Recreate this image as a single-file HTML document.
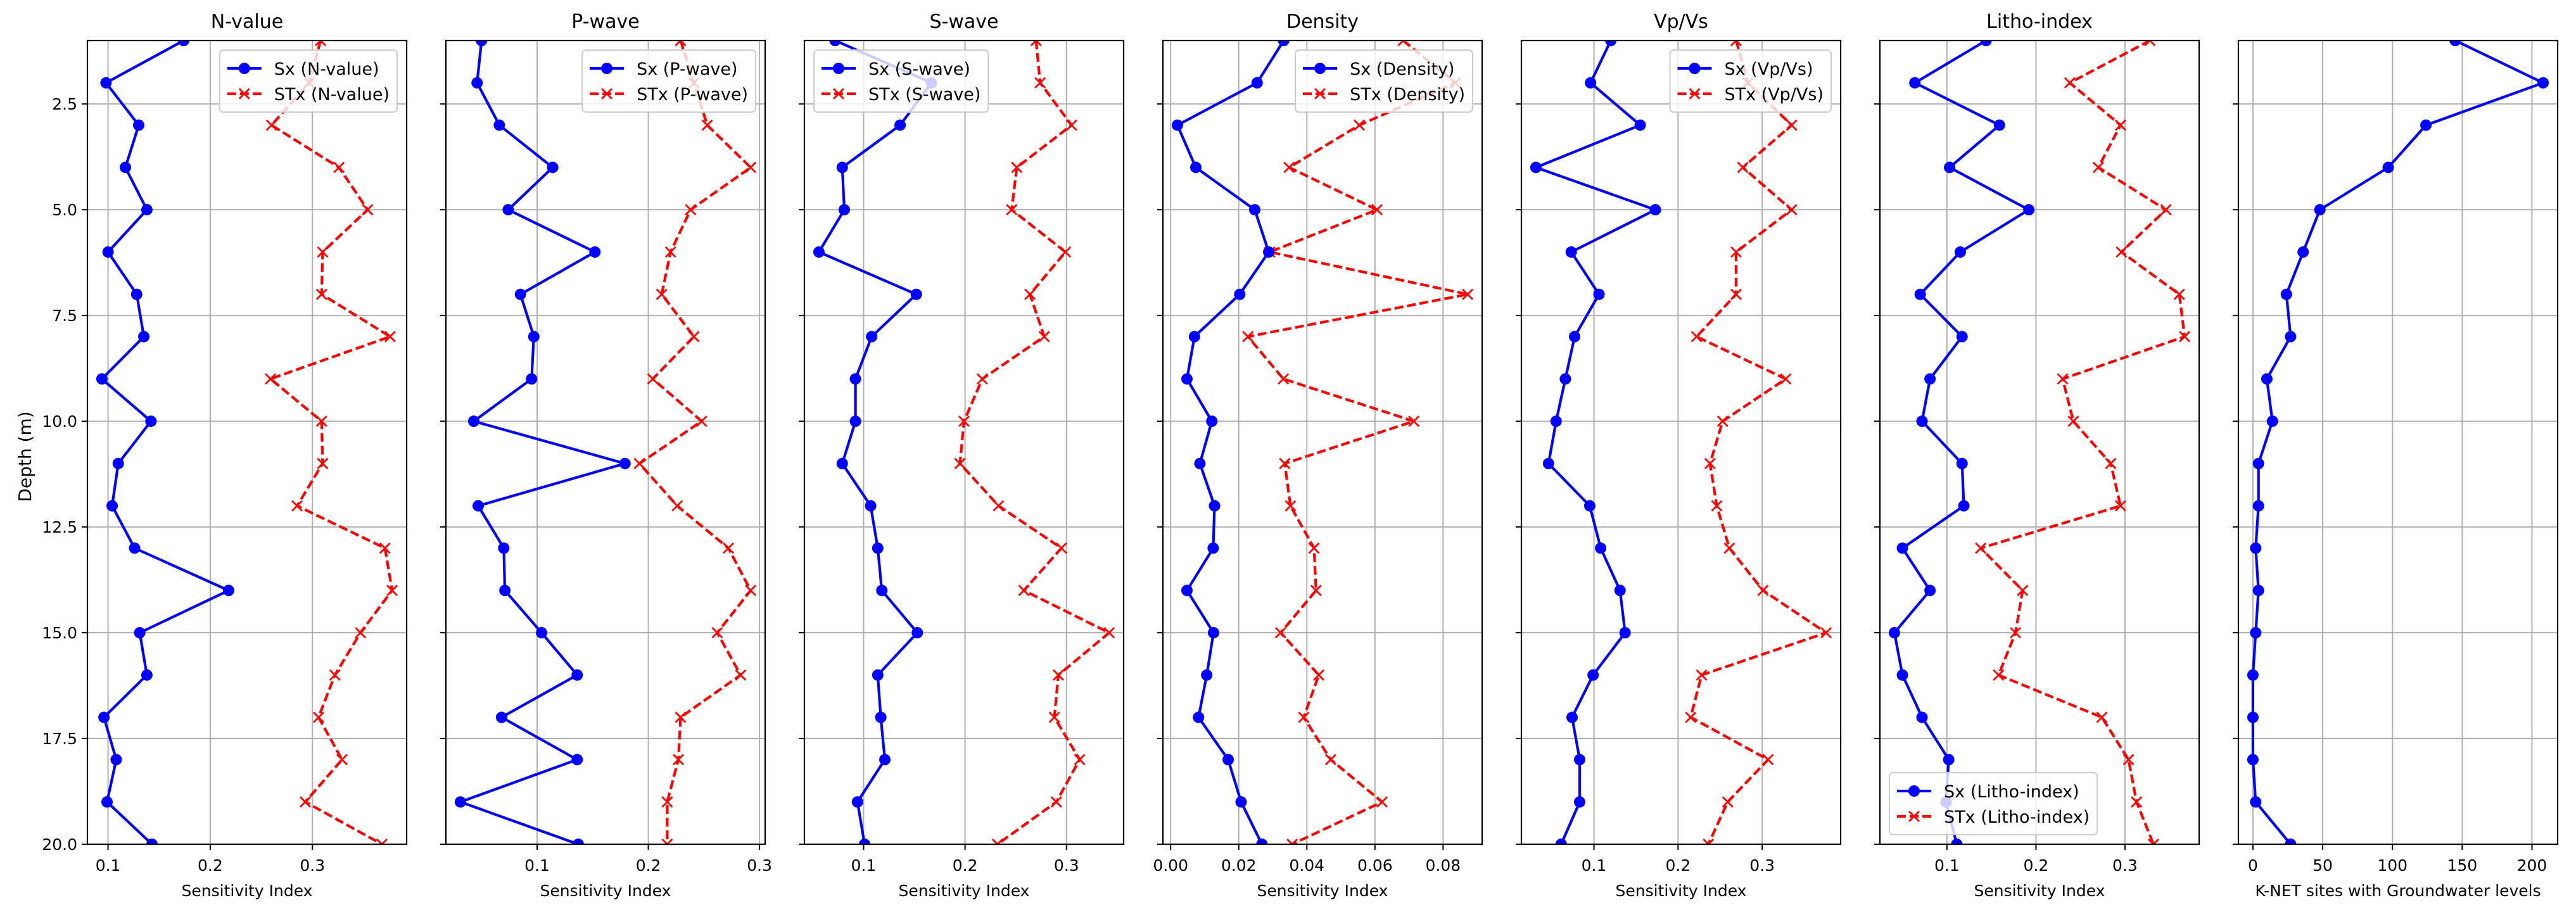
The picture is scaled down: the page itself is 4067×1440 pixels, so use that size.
<!DOCTYPE html>
<html><head><meta charset="utf-8">
<style>
html,body{margin:0;padding:0;background:#fff;}
svg{display:block;font-family:"DejaVu Sans","Liberation Sans",sans-serif;}
</style></head>
<body>
<svg id="chart" width="4067" height="1440" viewBox="0 0 4067 1440" xmlns="http://www.w3.org/2000/svg"></svg>
<script>
const depths = [1,2,3,4,5,6,7,8,9,10,11,12,13,14,15,16,17,18,19,20];
const yTicks = [2.5,5,7.5,10,12.5,15,17.5,20];
const panelTitles = ["N-value","P-wave","S-wave","Density","Vp/Vs","Litho-index",""];
const sxNvalue = [0.174,0.098,0.130,0.117,0.138,0.100,0.128,0.135,0.094,0.142,0.110,0.104,0.126,0.218,0.131,0.138,0.096,0.108,0.099,0.143];
const stxNvalue = [0.308,0.297,0.260,0.326,0.354,0.310,0.309,0.376,0.259,0.309,0.310,0.285,0.371,0.378,0.347,0.322,0.306,0.329,0.293,0.368];
const sxPwave = [0.050,0.046,0.066,0.114,0.074,0.152,0.085,0.097,0.095,0.043,0.179,0.047,0.070,0.071,0.104,0.136,0.068,0.136,0.031,0.137];
const stxPwave = [0.229,0.241,0.253,0.292,0.238,0.220,0.212,0.241,0.204,0.248,0.192,0.226,0.272,0.292,0.262,0.283,0.229,0.227,0.217,0.217];
const sxSwave = [0.072,0.167,0.136,0.079,0.081,0.056,0.152,0.108,0.092,0.092,0.079,0.107,0.114,0.118,0.153,0.114,0.117,0.121,0.094,0.101];
const stxSwave = [0.270,0.274,0.305,0.251,0.246,0.299,0.264,0.278,0.217,0.199,0.195,0.233,0.295,0.258,0.342,0.292,0.288,0.313,0.290,0.232];
const sxDensity = [0.0332,0.0254,0.0020,0.0074,0.0247,0.0288,0.0203,0.0070,0.0048,0.0121,0.0086,0.0129,0.0125,0.0048,0.0126,0.0106,0.0082,0.0169,0.0207,0.0268];
const stxDensity = [0.0683,0.0836,0.0554,0.0348,0.0606,0.0291,0.0872,0.0227,0.0331,0.0714,0.0335,0.0352,0.0421,0.0427,0.0323,0.0435,0.0391,0.0470,0.0621,0.0357];
const sxVpVs = [0.120,0.096,0.155,0.031,0.173,0.073,0.106,0.077,0.066,0.055,0.046,0.095,0.108,0.131,0.137,0.099,0.074,0.083,0.083,0.061];
const stxVpVs = [0.269,0.283,0.335,0.277,0.335,0.269,0.269,0.222,0.328,0.253,0.238,0.246,0.261,0.301,0.376,0.228,0.215,0.307,0.259,0.236];
const sxLitho = [0.144,0.064,0.159,0.103,0.192,0.115,0.070,0.117,0.081,0.072,0.117,0.119,0.050,0.081,0.041,0.050,0.072,0.102,0.099,0.111];
const stxLitho = [0.328,0.238,0.295,0.270,0.346,0.296,0.361,0.367,0.230,0.242,0.284,0.295,0.138,0.185,0.177,0.158,0.274,0.304,0.313,0.332];
const knetSites = [145,208,124,97,48,36,24,27,10,14,4,4,2,4,2,0,0,0,2,27];
const xTicks1 = [0.1,0.2,0.3];
const xTicksDensity = [0.00,0.02,0.04,0.06,0.08];
const xTicksKnet = [0,50,100,150,200];

const panels = [
  {sx:sxNvalue, stx:stxNvalue, label:"N-value", ticks:xTicks1, dec:1, legend:"ur"},
  {sx:sxPwave, stx:stxPwave, label:"P-wave", ticks:xTicks1, dec:1, legend:"ur"},
  {sx:sxSwave, stx:stxSwave, label:"S-wave", ticks:xTicks1, dec:1, legend:"ul"},
  {sx:sxDensity, stx:stxDensity, label:"Density", ticks:xTicksDensity, dec:2, legend:"ur"},
  {sx:sxVpVs, stx:stxVpVs, label:"Vp/Vs", ticks:xTicks1, dec:1, legend:"ur"},
  {sx:sxLitho, stx:stxLitho, label:"Litho-index", ticks:xTicks1, dec:1, legend:"ll"},
  {sx:knetSites, stx:null, label:"", ticks:xTicksKnet, dec:0, legend:null}
];

const NS = "http://www.w3.org/2000/svg";
const svg = document.getElementById('chart');
function mk(tag, attrs, parent){
  const e = document.createElementNS(NS, tag);
  for (const k in attrs) e.setAttribute(k, attrs[k]);
  (parent||svg).appendChild(e);
  return e;
}
const TOP=64, BOT=1333, W=504, STEP=566, L0=138;
const yMin=1, yMax=20;
const LW=4.2, MR=9;
function yScale(d){ return TOP + (d-yMin)/(yMax-yMin)*(BOT-TOP); }

panels.forEach((p, i) => {
  const left = L0 + i*STEP, right = left + W;
  const all = p.sx.concat(p.stx || []);
  const mn = Math.min(...all), mx = Math.max(...all), rg = mx - mn;
  const xmin = mn - 0.05*rg, xmax = mx + 0.05*rg;
  const xScale = v => left + (v - xmin)/(xmax - xmin)*W;

  const g = mk('g', {});
  
  

  const clipId = 'clip' + i;
  const cp = mk('clipPath', {id: clipId}, g);
  mk('rect', {x:left, y:TOP, width:W, height:BOT-TOP}, cp);

  const grid = mk('g', {stroke:'#b0b0b0', 'stroke-width':2}, g);
  
  
  p.ticks.forEach(t => { const x = xScale(t); mk('line', {x1:x, x2:x, y1:TOP, y2:BOT}, grid); });
  yTicks.forEach(t => { const y = yScale(t); mk('line', {x1:left, x2:right, y1:y, y2:y}, grid); });

  const plot = mk('g', {'clip-path':'url(#' + clipId + ')'}, g);
  if (p.stx) {
    const pts = p.stx.map((v,k) => xScale(v).toFixed(1) + ',' + yScale(depths[k]).toFixed(1)).join(' ');
    const ln = mk('polyline', {points:pts, fill:'none', stroke:'#ff0000', 'stroke-width':LW, 'stroke-dasharray':'14 6', 'stroke-linejoin':'round'}, plot);
    
    
    p.stx.forEach((v,k) => {
      const x = xScale(v), y = yScale(depths[k]), s = 8;
      const m = mk('path', {d:`M${x-s},${y-s}L${x+s},${y+s}M${x-s},${y+s}L${x+s},${y-s}`, stroke:'#ff0000', 'stroke-width':2.8, fill:'none'}, plot);
      
      
    });
  }
  {
    const pts = p.sx.map((v,k) => xScale(v).toFixed(1) + ',' + yScale(depths[k]).toFixed(1)).join(' ');
    const ln = mk('polyline', {points:pts, fill:'none', stroke:'#0000ff', 'stroke-width':LW, 'stroke-linejoin':'round'}, plot);
    
    
    p.sx.forEach((v,k) => {
      const c = mk('circle', {cx:xScale(v), cy:yScale(depths[k]), r:MR, fill:'#0000ff'}, plot);
      
      
    });
  }

  const sp = mk('rect', {x:left, y:TOP, width:W, height:BOT-TOP, fill:'none', stroke:'#000', 'stroke-width':2.2}, g);
  
  

  p.ticks.forEach(t => {
    const x = xScale(t);
    mk('line', {x1:x, x2:x, y1:BOT, y2:BOT+9, stroke:'#000', 'stroke-width':2}, g);
    const tx = mk('text', {x:x, y:BOT+42, 'font-size':25, 'text-anchor':'middle', fill:'#000'}, g);
    tx.textContent = t.toFixed(p.dec);
    
    
  });
  yTicks.forEach(t => {
    const y = yScale(t);
    mk('line', {x1:left-9, x2:left, y1:y, y2:y, stroke:'#000', 'stroke-width':2}, g);
    if (i === 0) {
      const ty = mk('text', {x:left-16, y:y+9, 'font-size':25, 'text-anchor':'end', fill:'#000'}, g);
      ty.textContent = t.toFixed(1);
      
      
    }
  });

  const xl = mk('text', {x:left+W/2, y:BOT+82, 'font-size':25, 'text-anchor':'middle', fill:'#000'}, g);
  xl.textContent = i === 6 ? 'K-NET sites with Groundwater levels' : 'Sensitivity Index';
  
  

  if (p.label) {
    const tt = mk('text', {x:left+W/2, y:44, 'font-size':30, 'text-anchor':'middle', fill:'#000'}, g);
    tt.textContent = p.label;
    
    
  }

  if (p.legend) {
    const lg = mk('g', {}, g);
    
    
    const box = mk('rect', {rx:6, ry:6, fill:'#fff', 'fill-opacity':0.8, stroke:'#cccccc', 'stroke-width':2}, lg);
    const t1 = mk('text', {'font-size':27, fill:'#000'}, lg);
    t1.textContent = 'Sx (' + p.label + ')';
    
    
    const t2 = mk('text', {'font-size':27, fill:'#000'}, lg);
    t2.textContent = 'STx (' + p.label + ')';
    
    
    let tw = 0;
    try { tw = Math.max(t1.getComputedTextLength(), t2.getComputedTextLength()); } catch(e) {}
    if (!tw) tw = t2.textContent.length * 16;
    const bw = 10 + 54 + 22 + tw + 12, bh = 98;
    let bx, by;
    if (p.legend === 'ur') { bx = right - 15 - bw; by = TOP + 15; }
    else if (p.legend === 'ul') { bx = left + 15; by = TOP + 15; }
    else { bx = left + 15; by = BOT - 15 - bh; }
    box.setAttribute('x', bx); box.setAttribute('y', by);
    box.setAttribute('width', bw); box.setAttribute('height', bh);
    const r1 = by + 29, r2 = by + 69;
    t1.setAttribute('x', bx + 86); t1.setAttribute('y', r1 + 10);
    t2.setAttribute('x', bx + 86); t2.setAttribute('y', r2 + 10);
    mk('line', {x1:bx+12, x2:bx+66, y1:r1, y2:r1, stroke:'#0000ff', 'stroke-width':LW}, lg);
    mk('circle', {cx:bx+39, cy:r1, r:MR, fill:'#0000ff'}, lg);
    mk('line', {x1:bx+12, x2:bx+66, y1:r2, y2:r2, stroke:'#ff0000', 'stroke-width':LW, 'stroke-dasharray':'14 6'}, lg);
    const cx = bx+39, s = 8;
    mk('path', {d:`M${cx-s},${r2-s}L${cx+s},${r2+s}M${cx-s},${r2+s}L${cx+s},${r2-s}`, stroke:'#ff0000', 'stroke-width':2.8}, lg);
  }
});

const yt = mk('text', {x:0, y:0, 'font-size':28, 'text-anchor':'middle', fill:'#000', transform:'translate(49,721) rotate(-90)'});
yt.textContent = 'Depth (m)';


</script>
</body></html>
